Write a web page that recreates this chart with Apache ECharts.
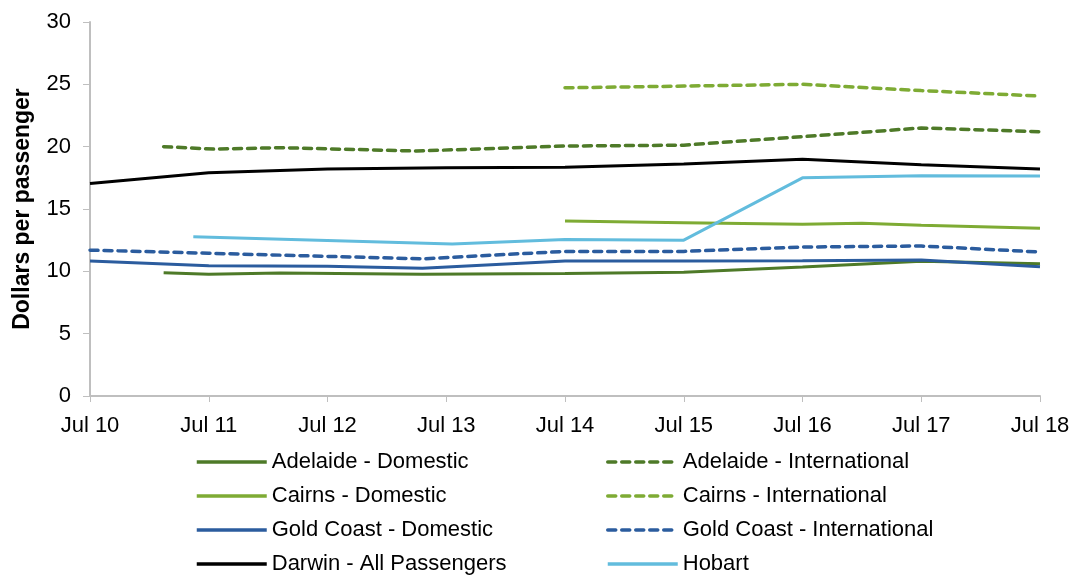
<!DOCTYPE html>
<html>
<head>
<meta charset="utf-8">
<script src="https://cdn.jsdelivr.net/npm/echarts@6/dist/echarts.min.js"></script>
<style>
  html, body { margin: 0; padding: 0; background: #fff; }
  #main { width: 1078px; height: 575px; }
</style>
</head>
<body>
<div id="main"></div>
<script>
// x = years since Jul 2010, y = dollars per passenger
var xTickLabels = ['Jul 10', 'Jul 11', 'Jul 12', 'Jul 13', 'Jul 14', 'Jul 15', 'Jul 16', 'Jul 17', 'Jul 18'];

var adelaideDomestic = [[0.62, 9.89], [1.0, 9.76], [1.6, 9.86], [2.8, 9.76], [4, 9.82], [5, 9.92], [6, 10.35], [7, 10.8], [8, 10.6]];
var adelaideIntl     = [[0.62, 20.0], [1.05, 19.8], [1.6, 19.92], [2.75, 19.65], [4, 20.05], [5, 20.12], [6, 20.8], [7, 21.5], [8, 21.2]];
var cairnsDomestic   = [[4, 14.03], [5, 13.9], [6, 13.77], [6.5, 13.85], [7, 13.7], [8, 13.45]];
var cairnsIntl       = [[4, 24.72], [5, 24.86], [6, 25.0], [7, 24.5], [8, 24.06]];
var goldCoastDomestic = [[0, 10.83], [1, 10.45], [2, 10.4], [2.8, 10.24], [4, 10.83], [5, 10.83], [6, 10.85], [7, 10.9], [8, 10.37]];
var goldCoastIntl    = [[0, 11.7], [1, 11.45], [2, 11.2], [2.8, 11.0], [4, 11.6], [5, 11.6], [6, 11.95], [7, 12.03], [8, 11.55]];
var darwinAll        = [[0, 17.05], [1, 17.9], [2, 18.2], [3, 18.3], [4, 18.35], [5, 18.6], [6, 19.0], [7, 18.55], [8, 18.2]];
var hobart           = [[0.87, 12.78], [3.05, 12.2], [4, 12.55], [5, 12.5], [6, 17.5], [7, 17.67], [8, 17.65]];

var legendLeft  = ['Adelaide - Domestic', 'Cairns - Domestic', 'Gold Coast - Domestic', 'Darwin - All Passengers'];
var legendRight = ['Adelaide - International', 'Cairns - International', 'Gold Coast - International', 'Hobart'];

var darkGreen = '#4e7a28';
var lightGreen = '#7eab34';
var blue = '#2b5c9e';
var lightBlue = '#62bcdd';

function line(name, data, color, dashed) {
    return {
        name: name,
        type: 'line',
        data: data,
        symbol: 'none',
        smooth: false,
        lineStyle: {
            color: color,
            width: dashed ? 3.5 : 3,
            type: dashed ? [8, 6] : 'solid',
            cap: dashed ? 'round' : 'butt'
        },
        itemStyle: { color: color }
    };
}

var myChart = echarts.init(document.getElementById('main'));

var legendBase = {
    orient: 'vertical',
    top: 451,
    height: 140,
    padding: 0,
    itemWidth: 70,
    itemHeight: 14,
    itemGap: 12,
    itemStyle: { opacity: 0 },
    lineStyle: { width: 3.5 },
    textStyle: { fontFamily: 'Liberation Sans, Arial', fontSize: 22, color: '#000' }
};

var option = {
    animation: false,
    textStyle: { fontFamily: 'Liberation Sans, Arial' },
    grid: { left: 90, right: 38, top: 22, bottom: 179 },
    legend: [
        Object.assign({}, legendBase, { left: 195, data: legendLeft }),
        Object.assign({}, legendBase, { left: 606, data: legendRight })
    ],
    xAxis: {
        type: 'value',
        min: 0,
        max: 8,
        interval: 1,
        splitLine: { show: false },
        axisLine: { lineStyle: { color: '#bfbfbf', width: 2 } },
        axisTick: { show: true, length: 6, lineStyle: { color: '#bfbfbf' } },
        axisLabel: {
            color: '#000',
            fontSize: 22,
            margin: 19,
            formatter: function (v) { return xTickLabels[v] || ''; }
        }
    },
    yAxis: {
        type: 'value',
        min: 0,
        max: 30,
        interval: 5,
        name: 'Dollars per passenger',
        nameLocation: 'middle',
        nameGap: 56,
        nameTextStyle: { color: '#000', fontSize: 23, fontWeight: 'bold' },
        splitLine: { show: false },
        axisLine: { show: true, lineStyle: { color: '#bfbfbf', width: 2 } },
        axisTick: { show: true, length: 7, lineStyle: { color: '#bfbfbf' } },
        axisLabel: { color: '#000', fontSize: 22, margin: 19 }
    },
    series: [
        line('Adelaide - Domestic', adelaideDomestic, darkGreen, false),
        line('Adelaide - International', adelaideIntl, darkGreen, true),
        line('Cairns - Domestic', cairnsDomestic, lightGreen, false),
        line('Cairns - International', cairnsIntl, lightGreen, true),
        line('Gold Coast - Domestic', goldCoastDomestic, blue, false),
        line('Gold Coast - International', goldCoastIntl, blue, true),
        line('Darwin - All Passengers', darwinAll, '#000000', false),
        line('Hobart', hobart, lightBlue, false)
    ]
};

myChart.setOption(option);
window.onresize = myChart.resize;
</script>
</body>
</html>
